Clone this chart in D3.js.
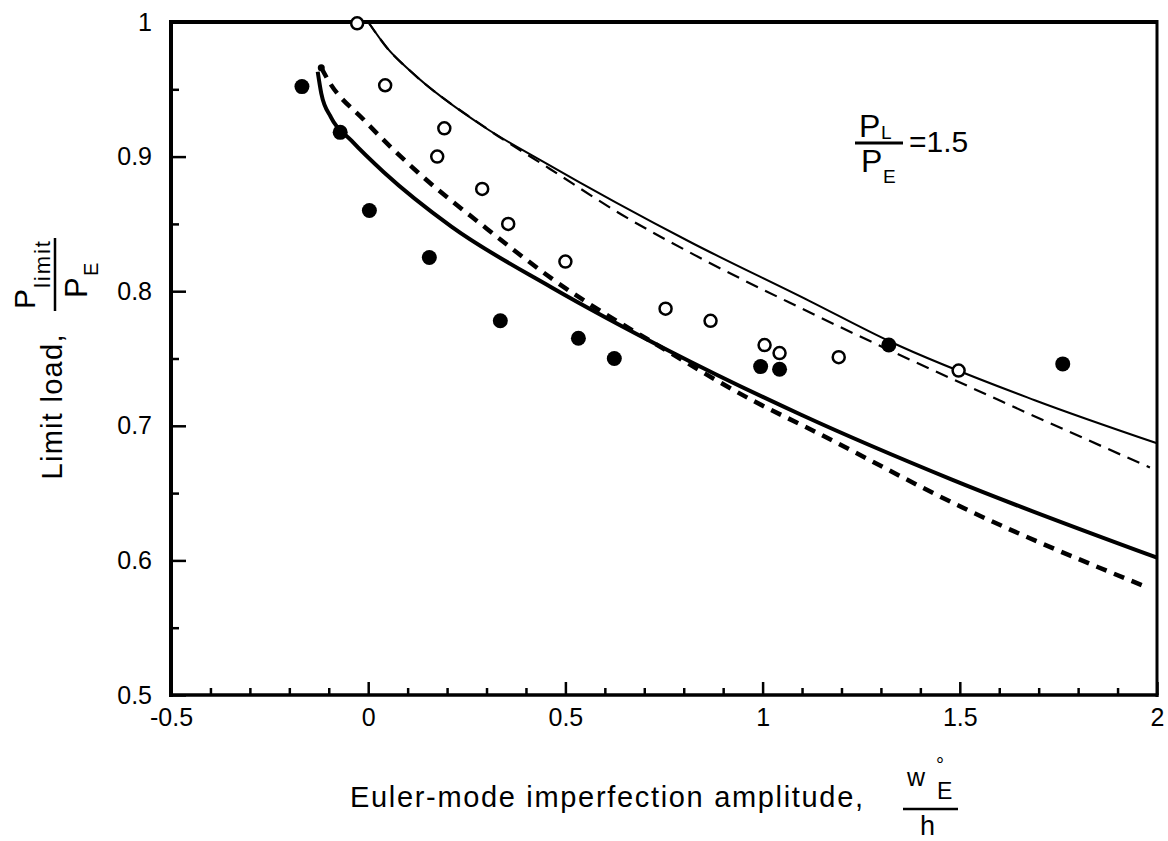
<!DOCTYPE html>
<html>
<head>
<meta charset="utf-8">
<script src="https://cdn.jsdelivr.net/npm/d3@7"></script>
<style>
  body { margin: 0; background: #fff; }
  text { font-family: "Liberation Sans", Arial, Helvetica, sans-serif; fill: #000; }
</style>
</head>
<body>
<div id="chart"></div>
<script>
// data: x = w_E / h, y = P_limit / P_E
var filledX = [-0.168, -0.071, 0.003, 0.155, 0.335, 0.533, 0.624, 0.995, 1.043, 1.320, 1.761];
var filledY = [0.952, 0.918, 0.860, 0.825, 0.778, 0.765, 0.750, 0.744, 0.742, 0.760, 0.746];

var openX = [-0.028, 0.043, 0.193, 0.175, 0.289, 0.355, 0.500, 0.754, 0.868, 1.005, 1.043, 1.193, 1.497];
var openY = [0.999, 0.953, 0.921, 0.900, 0.876, 0.850, 0.822, 0.787, 0.778, 0.760, 0.754, 0.751, 0.741];

// thin solid curve
var thinSolidX = [0.0, 0.05, 0.109, 0.294, 0.439, 0.820, 1.117, 1.320, 1.690, 2.0];
var thinSolidY = [1.0, 0.980, 0.963, 0.922, 0.897, 0.836, 0.793, 0.763, 0.719, 0.687];
// thin dashed curve
var thinDashX = [0.0, 0.05, 0.109, 0.300, 0.460, 0.642, 0.827, 1.100, 1.607, 1.982];
var thinDashY = [1.0, 0.980, 0.963, 0.921, 0.891, 0.857, 0.827, 0.787, 0.718, 0.669];
// thick solid curve
var thickSolidX = [-0.128, -0.119, -0.094, -0.043, 0.041, 0.211, 0.464, 0.761, 1.099, 1.480, 2.0];
var thickSolidY = [0.963, 0.947, 0.929, 0.912, 0.888, 0.848, 0.803, 0.756, 0.708, 0.660, 0.602];
// thick dashed curve
var thickDashX = [-0.119, -0.102, -0.010, 0.127, 0.294, 0.472, 0.750, 0.980, 1.117, 1.523, 1.975];
var thickDashY = [0.966, 0.957, 0.927, 0.888, 0.848, 0.808, 0.757, 0.718, 0.698, 0.637, 0.580];

var xMajor = [-0.5, 0, 0.5, 1, 1.5, 2];
var yMajor = [0.5, 0.6, 0.7, 0.8, 0.9, 1];
var xLabels = ["-0.5", "0", "0.5", "1", "1.5", "2"];
var yLabels = ["0.5", "0.6", "0.7", "0.8", "0.9", "1"];

var W = 1168, H = 841;
var plot = {left: 171, right: 1157, top: 22, bottom: 695};

var svg = d3.select("#chart").append("svg")
  .attr("width", W)
  .attr("height", H);

var x = d3.scaleLinear().domain([-0.5, 2]).range([plot.left, plot.right]);
var y = d3.scaleLinear().domain([0.5, 1]).range([plot.bottom, plot.top]);

// minor ticks every 0.1 on x, 0.05 on y
var xMinor = d3.range(-4, 20).map(function(i) { return +(i / 10).toFixed(2); })
  .filter(function(v) { return xMajor.indexOf(v) < 0; });
var yMinor = [0.55, 0.65, 0.75, 0.85, 0.95];

// x axis (ticks pointing in)
svg.append("g")
  .attr("transform", "translate(0," + plot.bottom + ")")
  .call(d3.axisBottom(x).tickValues(xMajor).tickSize(-13).tickPadding(13)
    .tickFormat(function(d, i) { return xLabels[i]; }));
svg.append("g")
  .attr("transform", "translate(0," + plot.bottom + ")")
  .call(d3.axisBottom(x).tickValues(xMinor).tickSize(-7).tickFormat(""));

svg.append("g")
  .attr("transform", "translate(" + plot.left + ",0)")
  .call(d3.axisLeft(y).tickValues(yMajor).tickSize(-15).tickPadding(19)
    .tickFormat(function(d, i) { return yLabels[i]; }));
svg.append("g")
  .attr("transform", "translate(" + plot.left + ",0)")
  .call(d3.axisLeft(y).tickValues(yMinor).tickSize(-8).tickFormat(""));

svg.selectAll(".domain").remove();
svg.selectAll(".tick line").attr("stroke", "#000").attr("stroke-width", 2.5);
svg.selectAll(".tick text")
  .style("font-size", "25px")
  .style("font-family", "'Liberation Sans', Arial, sans-serif")
  .attr("fill", "#000");

// frame
var frame = [
  {x1: plot.left, y1: plot.top, x2: plot.right, y2: plot.top, w: 4},
  {x1: plot.left, y1: plot.top - 2, x2: plot.left, y2: plot.bottom + 2, w: 4},
  {x1: plot.left - 2, y1: plot.bottom, x2: plot.right + 1.5, y2: plot.bottom, w: 3.5},
  {x1: plot.right, y1: plot.top - 2, x2: plot.right, y2: plot.bottom + 2, w: 3}
];
svg.selectAll("line.frame")
  .data(frame)
  .enter().append("line")
  .attr("class", "frame")
  .attr("x1", function(d) { return d.x1; })
  .attr("y1", function(d) { return d.y1; })
  .attr("x2", function(d) { return d.x2; })
  .attr("y2", function(d) { return d.y2; })
  .attr("stroke", "#000")
  .attr("stroke-width", function(d) { return d.w; });

// curves
var line = d3.line()
  .x(function(d) { return x(d[0]); })
  .y(function(d) { return y(d[1]); })
  .curve(d3.curveMonotoneX);

function pairs(xs, ys) {
  return xs.map(function(v, i) { return [v, ys[i]]; });
}

var curves = [
  {pts: pairs(thinSolidX, thinSolidY), w: 2, dash: null},
  {pts: pairs(thinDashX, thinDashY), w: 2.2, dash: "13,8"},
  {pts: pairs(thickSolidX, thickSolidY), w: 4, dash: null},
  {pts: pairs(thickDashX, thickDashY), w: 4.5, dash: "11,8"}
];

svg.selectAll("path.curve")
  .data(curves)
  .enter().append("path")
  .attr("class", "curve")
  .attr("d", function(d) { return line(d.pts); })
  .attr("fill", "none")
  .attr("stroke", "#000")
  .attr("stroke-width", function(d) { return d.w; })
  .attr("stroke-dasharray", function(d) { return d.dash; });

// little dot at the start of the thick dashed curve
svg.append("circle")
  .attr("cx", x(thickDashX[0]))
  .attr("cy", y(thickDashY[0]))
  .attr("r", 3.5)
  .attr("fill", "#000");

// data points
svg.selectAll("circle.filled")
  .data(pairs(filledX, filledY))
  .enter().append("circle")
  .attr("class", "filled")
  .attr("cx", function(d) { return x(d[0]); })
  .attr("cy", function(d) { return y(d[1]); })
  .attr("r", 7.5)
  .attr("fill", "#000");

svg.selectAll("circle.open")
  .data(pairs(openX, openY))
  .enter().append("circle")
  .attr("class", "open")
  .attr("cx", function(d) { return x(d[0]); })
  .attr("cy", function(d) { return y(d[1]); })
  .attr("r", 6)
  .attr("fill", "#fff")
  .attr("stroke", "#000")
  .attr("stroke-width", 2.5);

// x axis title
svg.append("text")
  .attr("x", 350).attr("y", 807)
  .attr("textLength", 513)
  .attr("lengthAdjust", "spacing")
  .style("font-size", "29px")
  .text("Euler-mode imperfection amplitude,");

// w°_E / h
var xNum = svg.append("text").style("font-size", "25px");
xNum.append("tspan").attr("x", 907).attr("y", 786).text("w");
xNum.append("tspan").attr("x", 936).attr("y", 772).style("font-size", "20px").text("°");
xNum.append("tspan").attr("x", 937).attr("y", 799).style("font-size", "23px").text("E");
svg.append("line").attr("x1", 903).attr("x2", 958).attr("y1", 809).attr("y2", 809)
  .attr("stroke", "#000").attr("stroke-width", 2.5);
svg.append("text").attr("x", 920).attr("y", 835).style("font-size", "27px").text("h");

// y axis title, rotated: local (u, v) -> screen (v, -u)
var yt = svg.append("g").attr("transform", "rotate(-90)");
yt.append("text")
  .attr("x", -407).attr("y", 62)
  .attr("text-anchor", "middle")
  .attr("textLength", 145)
  .attr("lengthAdjust", "spacing")
  .style("font-size", "29px")
  .text("Limit load,");
var yNum = yt.append("text").style("font-size", "30px");
yNum.append("tspan").attr("x", -309).attr("y", 35).text("P");
yNum.append("tspan").attr("x", -288).attr("y", 50)
  .attr("textLength", 47).attr("lengthAdjust", "spacing")
  .style("font-size", "22px").text("limit");
yt.append("line").attr("x1", -311).attr("x2", -238).attr("y1", 55).attr("y2", 55)
  .attr("stroke", "#000").attr("stroke-width", 2.5);
var yDen = yt.append("text").style("font-size", "31px");
yDen.append("tspan").attr("x", -298).attr("y", 87).text("P");
yDen.append("tspan").attr("x", -276).attr("y", 98).style("font-size", "20px").text("E");

// ratio note P_L / P_E = 1.5
var note = svg.append("g");
var nNum = note.append("text").style("font-size", "32px");
nNum.append("tspan").attr("x", 859).attr("y", 137).text("P");
nNum.append("tspan").attr("x", 881).attr("y", 139).style("font-size", "19px").text("L");
note.append("line").attr("x1", 855).attr("x2", 903).attr("y1", 143).attr("y2", 143)
  .attr("stroke", "#000").attr("stroke-width", 3);
var nDen = note.append("text").style("font-size", "32px");
nDen.append("tspan").attr("x", 861).attr("y", 172).text("P");
nDen.append("tspan").attr("x", 883).attr("y", 183).style("font-size", "19px").text("E");
note.append("text").attr("x", 909).attr("y", 152).style("font-size", "30px").text("=1.5");
</script>
</body>
</html>
